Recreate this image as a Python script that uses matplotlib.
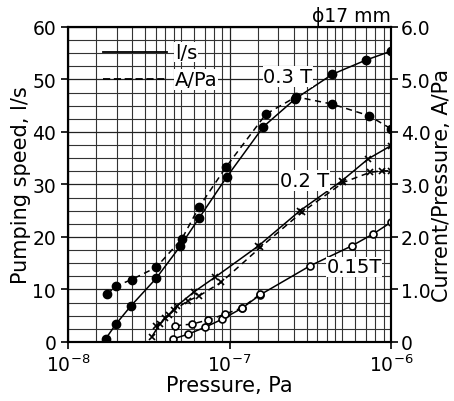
import numpy as np
import matplotlib.pyplot as plt
from matplotlib.ticker import FixedLocator, NullFormatter, LogFormatterMathtext

plt.rcParams['font.family'] = ['DejaVu Sans']

# 0.3 T
p03_s = [1.71e-8, 1.98e-8, 2.44e-8, 3.51e-8, 4.94e-8, 6.48e-8, 9.6e-8, 1.62e-7, 2.55e-7, 4.34e-7, 7.0e-7, 1.0e-6]
s03 = [0.6, 3.4, 6.8, 12.1, 18.2, 23.6, 31.4, 41.0, 46.3, 51.0, 53.7, 55.4]
p03_a = [1.75e-8, 1.97e-8, 2.48e-8, 3.51e-8, 5.06e-8, 6.48e-8, 9.5e-8, 1.68e-7, 2.58e-7, 4.34e-7, 7.3e-7, 1.0e-6]
a03 = [0.91, 1.06, 1.19, 1.42, 1.96, 2.57, 3.33, 4.34, 4.67, 4.53, 4.31, 4.06]

# 0.2 T
p02_s = [3.3e-8, 3.7e-8, 4.2e-8, 4.7e-8, 6.0e-8, 8.1e-8, 1.51e-7, 2.73e-7, 4.96e-7, 7.24e-7, 1.0e-6]
s02 = [1.0, 3.4, 5.2, 6.8, 9.5, 12.3, 18.3, 25.0, 30.7, 34.9, 37.4]
p02_a = [3.5e-8, 4.0e-8, 4.5e-8, 5.5e-8, 6.5e-8, 8.9e-8, 1.55e-7, 2.8e-7, 5.07e-7, 7.4e-7, 8.75e-7, 1.0e-6]
a02 = [0.30, 0.46, 0.60, 0.78, 0.88, 1.14, 1.80, 2.47, 3.04, 3.23, 3.26, 3.26]

# 0.15 T
p015_s = [4.49e-8, 5.56e-8, 7.05e-8, 8.95e-8, 1.19e-7, 1.55e-7, 3.15e-7, 5.71e-7, 7.77e-7, 1.0e-6]
s015 = [0.6, 1.5, 2.8, 4.3, 6.4, 9.0, 14.5, 18.3, 20.6, 22.8]
p015_a = [4.6e-8, 5.83e-8, 7.38e-8, 9.38e-8, 1.19e-7, 1.55e-7]
a015 = [0.31, 0.34, 0.42, 0.53, 0.65, 0.91]

fig = plt.figure(figsize=(4.54, 4.02), dpi=100)
ax = fig.add_axes([0.1498, 0.1468, 0.7115, 0.7836])
ax2 = ax.twinx()

ax.set_xscale('log')
ax.set_xlim(1e-8, 1e-6)
ax.set_ylim(0, 60)
ax2.set_ylim(0, 6)

# grid like graph paper
mults = [1, 1.5, 2, 2.5, 3, 3.5, 4, 4.5, 5, 6, 7, 8, 9]
gx = [m * 10.0**e for e in (-8, -7) for m in mults]
ax.xaxis.set_minor_locator(FixedLocator(gx))
ax.xaxis.set_minor_formatter(NullFormatter())
ax.yaxis.set_minor_locator(FixedLocator(np.arange(0, 60.1, 2.5)))
ax.grid(True, which='minor', color='#333333', lw=0.8)
ax.grid(True, which='major', color='#222222', lw=0.9)
ax.tick_params(which='minor', length=0)
ax.tick_params(which='major', direction='out', length=5, width=1.2, labelsize=13.5)
ax.xaxis.set_major_locator(FixedLocator([1e-8, 1e-7, 1e-6]))
ax.xaxis.set_major_formatter(LogFormatterMathtext())
ax.set_yticks(np.arange(0, 61, 10))

ax2.set_yticks(np.arange(0, 6.1, 1))
ax2.set_yticklabels(['0', '1.0', '2.0', '3.0', '4.0', '5.0', '6.0'])
ax2.tick_params(direction='out', length=5, width=1.2, labelsize=13.5, pad=2)

for a in (ax, ax2):
    for s in a.spines.values():
        s.set_linewidth(1.5)

# solid: pumping speed
ax.plot(p03_s, s03, 'k-', marker='o', ms=6, lw=1.1)
ax.plot(p02_s, s02, 'k-', marker='x', ms=5, mew=1.2, lw=1.1)
ax.plot(p015_s, s015, 'k-', marker='o', ms=5, mfc='white', mew=1.2, lw=1.1)

# dashed: current/pressure
ax2.plot(p03_a, a03, 'k--', marker='o', ms=6, lw=1.1, dashes=(4, 3))
ax2.plot(p02_a, a02, 'k--', marker='x', ms=5, mew=1.2, lw=1.1, dashes=(4, 3))
ax2.plot(p015_a, a015, 'k--', marker='o', ms=5, mfc='white', mew=1.2, lw=1.1, dashes=(4, 3))

# legend drawn by hand
ax.plot([1.65e-8, 4.1e-8], [55.2, 55.2], 'k-', lw=1.3)
ax.plot([1.65e-8, 4.1e-8], [50.0, 50.0], 'k--', lw=1.3, dashes=(4, 2))
ax.text(4.6e-8, 55.2, 'l/s', fontsize=14, va='center', ha='left',
        bbox=dict(fc='white', ec='none', pad=0.5))
ax.text(4.6e-8, 50.0, 'A/Pa', fontsize=14, va='center', ha='left',
        bbox=dict(fc='white', ec='none', pad=0.5))

ax.text(2.3e-7, 50.6, '0.3 T', fontsize=14, ha='center', va='center',
        bbox=dict(fc='white', ec='none', pad=0.5))
ax.text(2.9e-7, 30.8, '0.2 T', fontsize=14, ha='center', va='center',
        bbox=dict(fc='white', ec='none', pad=0.5))
ax.text(5.9e-7, 14.3, '0.15T', fontsize=14, ha='center', va='center',
        bbox=dict(fc='white', ec='none', pad=0.5))

ax.text(1.0, 1.005, '\u03d517 mm', transform=ax.transAxes, fontsize=13.5,
        ha='right', va='bottom')

ax.set_xlabel('Pressure, Pa', fontsize=15, labelpad=0)
ax.set_ylabel('Pumping speed, l/s', fontsize=15, labelpad=1)
ax2.set_ylabel('Current/Pressure, A/Pa', fontsize=15, labelpad=1)

fig.savefig('out.png', dpi=100)
